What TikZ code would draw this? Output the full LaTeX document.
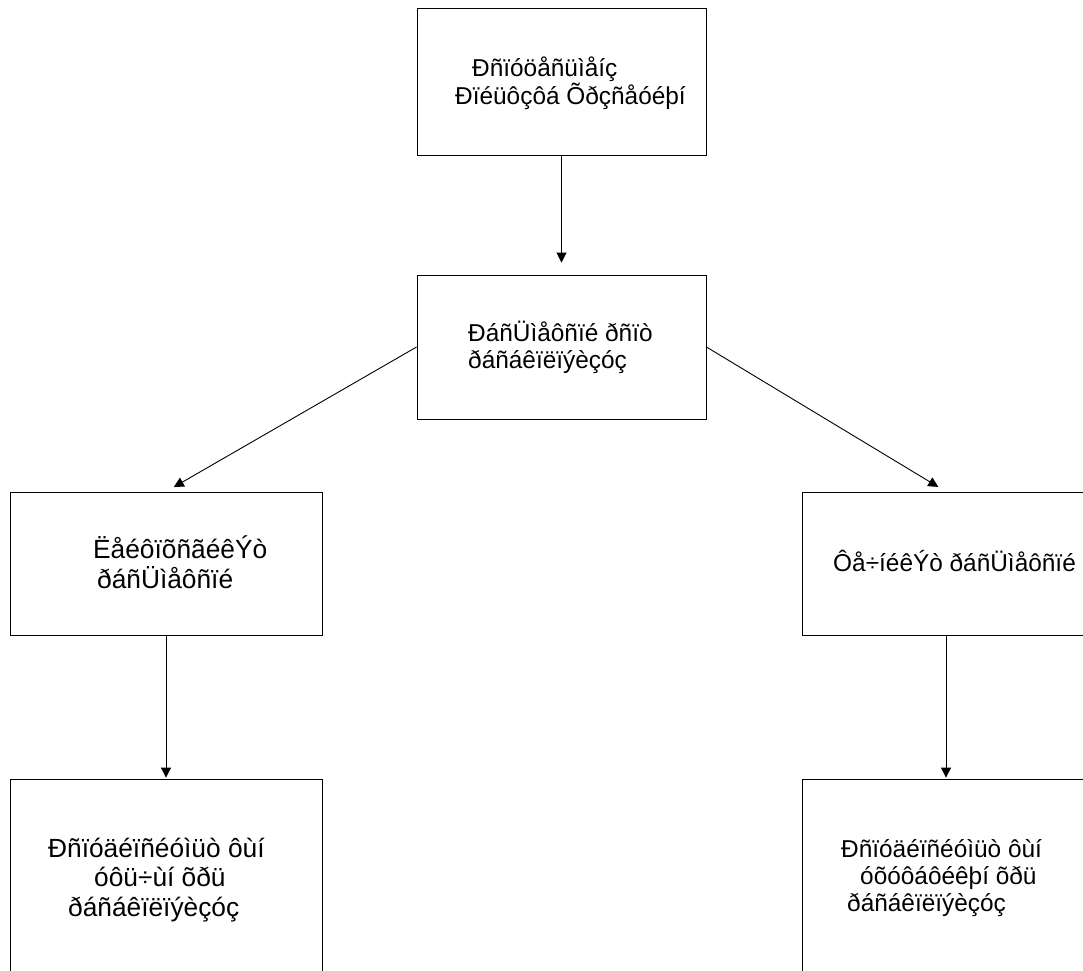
\documentclass[tikz,border=0pt]{standalone}
\usepackage{fontspec}
\setmainfont{Liberation Sans}
\usetikzlibrary{arrows.meta}
\begin{document}
\begin{tikzpicture}[x=1pt,y=-1pt,
  box/.style={draw=black, line width=0.9pt, rectangle, inner sep=0pt},
  % labels are anchored at the baseline of their last line
  lbl/.style={anchor=base west, align=left, inner sep=0pt},
  big/.style={font=\fontsize{26.3}{29.3}\selectfont},
  mid/.style={font=\fontsize{24.4}{27.5}\selectfont},
  conn/.style={draw=black, line width=0.9pt, -{Triangle[length=10pt,width=10pt]}}]
\useasboundingbox[fill=white] (0,0) rectangle (1083,970);

% boxes
\node[box, minimum width=289pt, minimum height=147pt] (b1) at (561.5,81.5) {};
\node[box, minimum width=289pt, minimum height=144pt] (b2) at (561.5,347) {};
\node[box, minimum width=312pt, minimum height=143pt] (b3) at (166,563.5) {};
\node[box, minimum width=288pt, minimum height=143pt] (b4) at (946,563.5) {};
\node[box, minimum width=312pt, minimum height=221pt] (b5) at (166,889.5) {};
\node[box, minimum width=288pt, minimum height=221pt] (b6) at (946,889.5) {};

% labels
\node[lbl, mid] (t1) at (455,104) {\hspace*{17pt}Ðñïóöåñüìåíç\\Ðïéüôçôá Õðçñåóéþí};
\node[lbl, mid] (t2) at (468,368.5) {ÐáñÜìåôñïé ðñïò\\ðáñáêïëïýèçóç};
\node[lbl, big] (t3) at (93,588) {ËåéôïõñãéêÝò\\\hspace*{4pt}ðáñÜìåôñïé};
\node[lbl, mid] (t4) at (833,571) {Ôå÷íéêÝò ðáñÜìåôñïé};
\node[lbl, big] (t5) at (48,916) {Ðñïóäéïñéóìüò ôùí\\\hspace*{46pt}óôü÷ùí õðü\\\hspace*{20pt}ðáñáêïëïýèçóç};
\node[lbl, font=\fontsize{24.4}{27}\selectfont] (t6) at (841,911) {Ðñïóäéïñéóìüò ôùí\\\hspace*{19pt}óõóôáôéêþí õðü\\\hspace*{6pt}ðáñáêïëïýèçóç};

% connectors
\draw[conn, shorten >=12pt] (b1.south) -- (b2.north);
\draw[conn, shorten >=9pt] (b2.west) -- (b3.north);
\draw[conn, shorten >=9pt] (b2.east) -- (b4.north);
\draw[conn, shorten >=1pt] (b3.south) -- (b5.north);
\draw[conn, shorten >=1pt] (b4.south) -- (b6.north);
\end{tikzpicture}
\end{document}
